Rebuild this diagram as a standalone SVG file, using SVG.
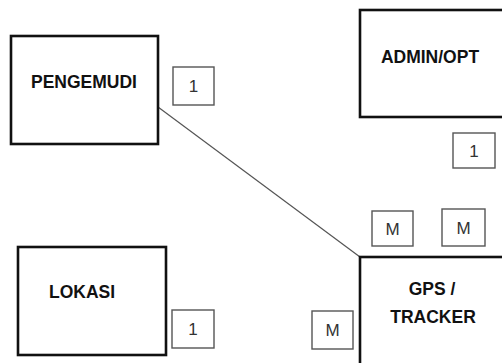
<svg xmlns="http://www.w3.org/2000/svg" width="502" height="363" viewBox="0 0 502 363">
<style>
.ent{fill:#fff;stroke:#111;stroke-width:2.6}
.card{fill:#fff;stroke:#555;stroke-width:1.4}
.lbl{font-family:"Liberation Sans",Arial,sans-serif;font-weight:bold;font-size:17.5px;fill:#111;text-anchor:middle}
.num{font-family:"Liberation Sans",Arial,sans-serif;font-size:17px;fill:#333;text-anchor:middle}
</style>
<rect width="502" height="363" fill="#fff"/>
<g id="connectors">
<line x1="158" y1="107" x2="360" y2="257" stroke="#555" stroke-width="1.2"/>
</g>
<g id="pengemudi">
<rect class="ent" x="11" y="36" width="147" height="108"/>
<text class="lbl" x="84" y="88">PENGEMUDI</text>
</g>
<g id="admin">
<rect class="ent" x="360" y="10" width="160" height="107"/>
<text class="lbl" x="430" y="63">ADMIN/OPT</text>
</g>
<g id="lokasi">
<rect class="ent" x="18" y="247" width="148" height="108"/>
<text class="lbl" x="82" y="298">LOKASI</text>
</g>
<g id="gps">
<rect class="ent" x="360" y="257" width="160" height="120"/>
<text class="lbl" x="432" y="295">GPS /</text>
<text class="lbl" x="433" y="323">TRACKER</text>
</g>
<g id="card-pengemudi">
<rect class="card" x="173" y="67" width="41" height="38"/>
<text class="num" x="193.5" y="92">1</text>
</g>
<g id="card-admin">
<rect class="card" x="453" y="133" width="42" height="35"/>
<text class="num" x="474" y="157">1</text>
</g>
<g id="card-lokasi">
<rect class="card" x="172" y="310" width="42" height="38"/>
<text class="num" x="193" y="335">1</text>
</g>
<g id="card-gps-pengemudi">
<rect class="card" x="372" y="211" width="41" height="35"/>
<text class="num" x="392.5" y="235">M</text>
</g>
<g id="card-gps-admin">
<rect class="card" x="442" y="209" width="43" height="37"/>
<text class="num" x="463.5" y="234">M</text>
</g>
<g id="card-gps-lokasi">
<rect class="card" x="312" y="311" width="41" height="38"/>
<text class="num" x="332.5" y="336">M</text>
</g>
</svg>
